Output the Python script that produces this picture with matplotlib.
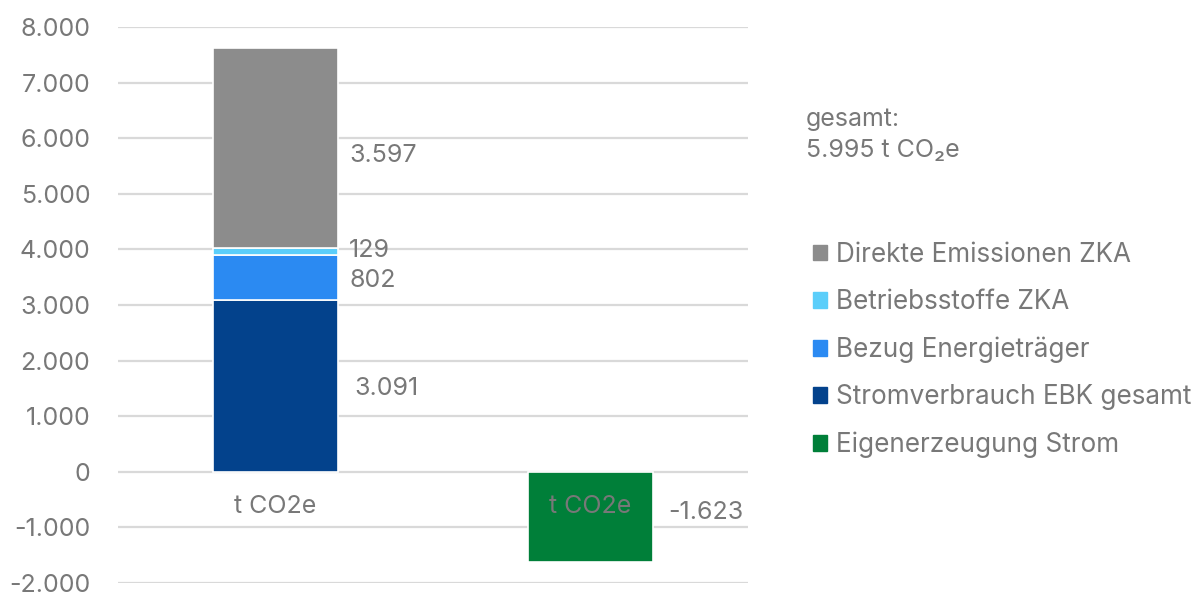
import matplotlib.pyplot as plt
from matplotlib.patches import Patch

plt.rcParams['font.family'] = ['Inter', 'DejaVu Sans']

# Data (t CO2e)
categories = ["t CO2e", "t CO2e"]
stack_names = ["Stromverbrauch EBK gesamt", "Bezug Energieträger",
               "Betriebsstoffe ZKA", "Direkte Emissionen ZKA"]
stack_values = [3091, 802, 129, 3597]
stack_colors = ["#03428C", "#2B8AF2", "#5BCEFA", "#8C8C8C"]
own_name = "Eigenerzeugung Strom"
own_value = -1623
own_color = "#007F39"
total_text = "gesamt:\n5.995 t CO₂e"

TEXT = "#787878"
GRID = "#D9D9D9"

def fmt(v):
    return f"{v:,.0f}".replace(",", ".")

fig = plt.figure(figsize=(12.01, 5.92), dpi=100)
ax = fig.add_axes([118 / 1201, 9 / 592, 630 / 1201, 556 / 592])

width = 0.397
# label nudges (points) for the stacked segments
label_shift = [(12, -2), (8, -2), (8, 1), (8, -5)]
bottom = 0
for name, val, col, sh in zip(stack_names, stack_values, stack_colors, label_shift):
    ax.bar(0, val, width, bottom=bottom, color=col, edgecolor="white",
           linewidth=1.2, label=name, zorder=3)
    ax.annotate(fmt(val), xy=(width / 2, bottom + val / 2), xytext=sh,
                textcoords="offset points", va="center", ha="left",
                fontsize=18, color=TEXT)
    bottom += val

ax.bar(1, own_value, width, color=own_color, edgecolor="white",
       linewidth=1.2, label=own_name, zorder=3)
ax.annotate(fmt(own_value), xy=(1 + width / 2, own_value / 2), xytext=(11, 3),
            textcoords="offset points", va="center", ha="left",
            fontsize=18, color=TEXT)

ax.set_xlim(-0.5, 1.5)
ax.set_ylim(-2000, 8000)
ax.set_yticks(range(-2000, 8001, 1000))
ax.set_yticklabels([fmt(t) for t in range(-2000, 8001, 1000)])
ax.tick_params(axis="y", length=0, pad=20, labelsize=18, labelcolor=TEXT)
ax.set_xticks([])
ax.yaxis.grid(True, color=GRID, linewidth=1.6, zorder=0)
ax.set_axisbelow(True)
for s in ax.spines.values():
    s.set_visible(False)

# category labels sit just below the zero line
for i, cat in enumerate(categories):
    ax.text(i, -630, cat, ha="center", va="center", fontsize=18,
            color=TEXT, zorder=5)

fig.text(806 / 1201, 1 - 135 / 592, total_text, ha="left", va="center",
         fontsize=18, color=TEXT, linespacing=1.45)

handles = [Patch(color=c) for c in stack_colors[::-1]] + [Patch(color=own_color)]
labels = stack_names[::-1] + [own_name]
fig.legend(handles, labels, loc="center left",
           bbox_to_anchor=(813 / 1201, 1 - 350 / 592), frameon=False,
           borderpad=0, borderaxespad=0,
           fontsize=18.8, labelcolor=TEXT, handlelength=0.55, handleheight=0.55,
           handletextpad=0.35, labelspacing=0.82)

fig.savefig("out.png", dpi=100)
